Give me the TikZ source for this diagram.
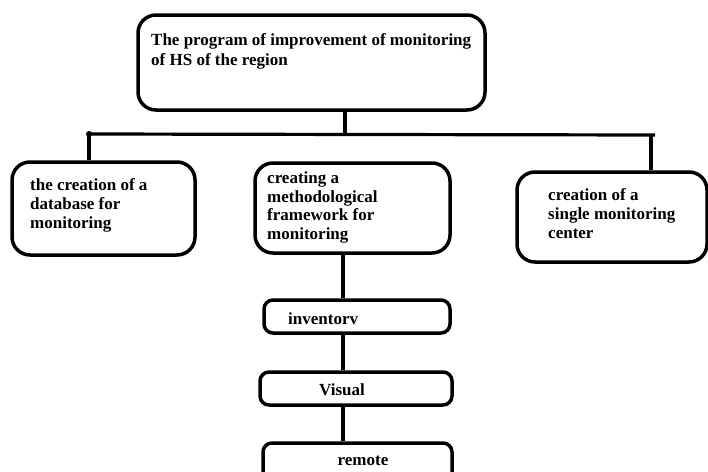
\documentclass[tikz,border=0pt]{standalone}
\usepackage{fontspec}
\setmainfont{Liberation Serif}
\begin{document}
\begin{tikzpicture}[x=1pt,y=-1pt,
  box/.style={draw=black,line width=3.5pt,rounded corners=18pt,inner sep=0pt},
  smallbox/.style={draw=black,line width=3.5pt,rounded corners=9pt,inner sep=0pt},
  txt/.style={inner sep=0pt,align=left,anchor=north west,text=black,
    font=\fontsize{17}{18.7}\selectfont\bfseries},
  conn/.style={draw=black,line width=3.2pt}]
\useasboundingbox (0,0) rectangle (708,471);
\clip (0,0) rectangle (708,471);
% boxes
\node[box,minimum width=347pt,minimum height=95pt] (top) at (311.5,62.5) {};
\node[box,minimum width=183pt,minimum height=93pt] (left) at (103.5,208.5) {};
\node[box,minimum width=195pt,minimum height=90pt] (mid) at (352.5,208) {};
\node[box,minimum width=190pt,minimum height=90pt] (right) at (612,217) {};
\node[smallbox,minimum width=186pt,minimum height=33pt] (inv) at (357,316.5) {};
\node[smallbox,minimum width=192pt,minimum height=33pt] (vis) at (356,388.5) {};
\node[smallbox,minimum width=189pt,minimum height=40pt] (rem) at (357.5,463) {};
% texts
\node[txt,font=\fontsize{17}{20}\selectfont\bfseries] (toptext) at (151,33.5)
  {The program of improvement of monitoring\\of HS of the region};
\node[txt] (lefttext) at (30,178.5) {the creation of a\\database for\\monitoring};
\node[txt] (midtext) at (267,171.5) {creating a\\methodological\\framework for\\monitoring};
\node[txt] (righttext) at (548,188.5) {creation of a\\single monitoring\\center};
\node[txt] (invtext) at (288,312.5) {inventorv};
\node[txt,anchor=base] (vistext) at (342,395) {Visual};
\node[txt,anchor=base] (remtext) at (363,465) {remote};
% connectors
\coordinate (jt) at (345,135);
\coordinate (jl) at (89,134);
\coordinate (jr) at (655,135);
\coordinate (jrv) at (651,135);
\draw[conn] (top.south -| jt) -- (jt);
\draw[conn] (jl) -- (jr);
\draw[conn] (jl) -- (left.north -| jl);
\draw[conn] (jrv) -- (right.north -| jrv);
\fill[black] (jl) circle (3pt);
\coordinate (ms) at (343,0);
\draw[conn] (mid.south -| ms) -- (inv.north -| ms);
\draw[conn] (inv.south -| ms) -- (vis.north -| ms);
\draw[conn] (vis.south -| ms) -- (rem.north -| ms);
\end{tikzpicture}
\end{document}
